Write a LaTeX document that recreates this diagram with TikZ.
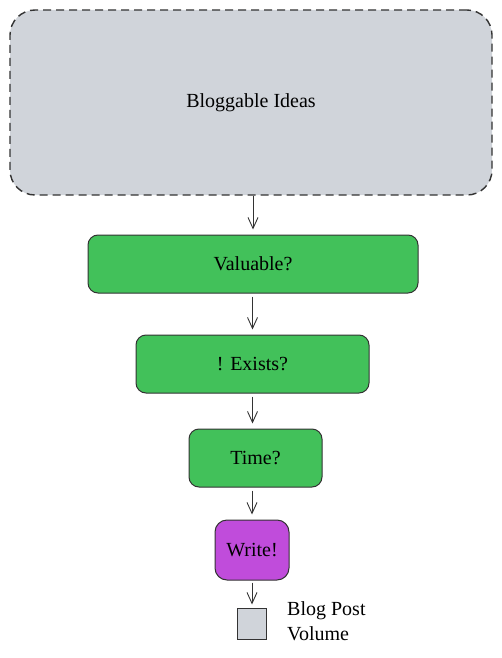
\documentclass[tikz,border=0pt]{standalone}
\usepackage{fontspec}
\setmainfont{Liberation Serif}
\usetikzlibrary{arrows.meta}
\definecolor{ideagray}{HTML}{D0D4DA}
\definecolor{qgreen}{HTML}{42C15A}
\definecolor{wpurple}{HTML}{C04CDB}
\definecolor{edgec}{HTML}{333333}
\tikzset{
  box/.style={draw=edgec, line width=1pt, rectangle, rounded corners=10pt, inner sep=0pt,
    font=\fontsize{20}{24}\selectfont, text=black},
  qbox/.style={box, fill=qgreen, minimum height=58pt},
  arr/.style={draw=edgec, line width=0.9pt, -{Straight Barb[length=11pt,width=10pt,line width=0.9pt]},
    shorten <=3pt, shorten >=5pt},
}
\begin{document}
\begin{tikzpicture}[x=1pt,y=-1pt]
\useasboundingbox (0,0) rectangle (502,658);
\node[box, fill=ideagray, dashed, dash pattern=on 8pt off 5pt, line width=1.4pt, rounded corners=25pt,
  minimum width=482pt, minimum height=185pt] (ideas) at (251,102.5) {Bloggable Ideas};
\node[qbox, minimum width=330pt] (val) at (253,264) {Valuable?};
\node[qbox, minimum width=233pt] (ex) at (252.5,364) {! Exists?};
\node[qbox, minimum width=133pt] (time) at (255.5,458) {Time?};
\node[box, fill=wpurple, rounded corners=12pt, minimum width=74pt, minimum height=60pt] (write) at (252,550) {Write!};
\node[box, fill=ideagray, rounded corners=0pt, minimum width=29pt, minimum height=31pt] (vol) at (251.5,623.5) {};
\node[font=\fontsize{20}{25}\selectfont, align=left, anchor=west, inner sep=0pt] (vollabel) at (287,621) {Blog Post\\Volume};
\draw[arr, shorten <=0pt] (ideas.south -| val.south) -- (val.north);
\draw[arr] (val.south -| ex.north) -- (ex.north);
\draw[arr] (ex.south) -- (ex.south |- time.north);
\draw[arr] (time.south -| write.north) -- (write.north);
\draw[arr, shorten <=2pt, shorten >=3pt] (write.south) -- (write.south |- vol.north);
\end{tikzpicture}
\end{document}
